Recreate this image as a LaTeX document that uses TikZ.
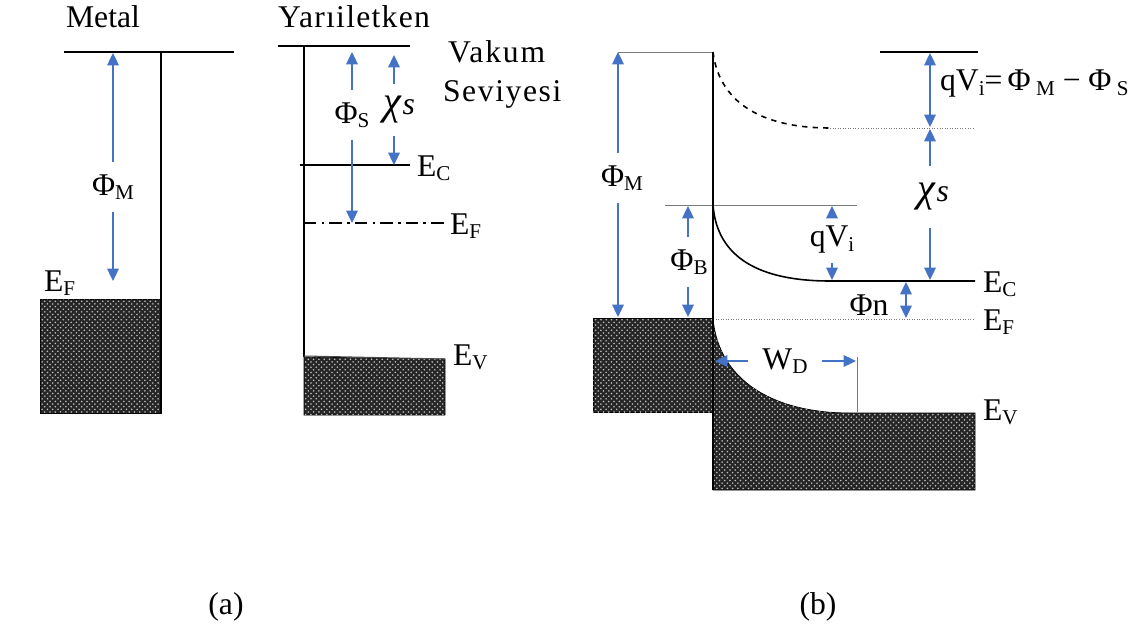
\documentclass[tikz,border=0pt]{standalone}
\usepackage{fontspec}
\setmainfont{Liberation Serif}
\usepackage{tikz}
\usetikzlibrary{arrows.meta,patterns}
\definecolor{dimblue}{RGB}{68,114,196}
\definecolor{guidegrey}{RGB}{120,120,120}
\newcommand{\lo}[1]{\raisebox{-0.3ex}{\fontsize{12}{12}\selectfont #1}}
\newcommand{\chis}{{\fontsize{23}{24}\selectfont\itshape χ}\kern1pt{\itshape s}}

\begin{document}
\begin{tikzpicture}[
    x=0.02cm, y=-0.02cm,
    lvl/.style={line width=0.9pt},
    guide/.style={line width=0.45pt, guidegrey},
    arr/.style={dimblue, line width=1.1pt, -{Triangle[length=7pt,width=6.5pt]}},
    dbl/.style={dimblue, line width=1.1pt, {Triangle[length=7pt,width=6.5pt]}-{Triangle[length=7pt,width=6.5pt]}},
    lbl/.style={font=\fontsize{18}{21}\selectfont, inner sep=1pt},
    gap/.style={lbl, inner xsep=2pt, inner ysep=7pt},
    band/.style={fill=black!85, postaction={pattern=crosshatch dots, pattern color=white!75!black}}
]
    \useasboundingbox (0,0) rectangle (1137,636);

    % (a) metal
    \node[lbl] (metal) at (103,17) {Metal};
    \coordinate (mvacL) at (64,52);
    \coordinate (mvacR) at (234,52);
    \coordinate (mwallT) at (161,52);
    \coordinate (mwallB) at (161,413);
    \draw[lvl] (mvacL) -- (mvacR);
    \draw[band] (40,299) rectangle (161,413);
    \draw[lvl] (mwallT) -- (mwallB);
    \node[lbl, anchor=west] (efm) at (42,283) {E\lo{F}};
    \node[gap] (phima) at (113,187) {Φ\lo{M}};
    \coordinate (phimaT) at (113,53);
    \coordinate (phimaB) at (113,281);
    \draw[arr] (phima) -- (phimaT);
    \draw[arr] (phima) -- (phimaB);

    % (a) semiconductor
    \node[lbl] (semi) at (354,17) {\addfontfeatures{LetterSpace=4}Yarıiletken};
    \coordinate (svacL) at (278,46);
    \coordinate (svacR) at (410,46);
    \coordinate (swallT) at (304,46);
    \coordinate (swallB) at (304,357);
    \coordinate (secL) at (300,165);
    \coordinate (secR) at (410,165);
    \coordinate (sefL) at (304,223);
    \coordinate (sefR) at (445,223);
    \coordinate (sevL) at (304,356);
    \coordinate (sevR) at (445,359);
    \draw[band] (304,357) -- (445,359) -- (445,415) -- (304,415) -- cycle;
    \draw[lvl] (svacL) -- (svacR);
    \draw[lvl] (swallT) -- (swallB);
    \draw[lvl] (secL) -- (secR);
    \draw[line width=0.6pt, dash pattern=on 7pt off 3pt on 1.5pt off 3pt] (sefL) -- (sefR);
    \draw[line width=0.6pt, black!70] (sevL) -- (sevR);
    \node[lbl, anchor=west] (eca) at (415,168) {E\lo{C}};
    \node[lbl, anchor=west] (efa) at (448,226) {E\lo{F}};
    \node[lbl, anchor=west] (eva) at (451,357) {E\lo{V}};
    \node[lbl, anchor=west] (vak) at (446,52) {\addfontfeatures{LetterSpace=6}Vakum};
    \node[lbl, anchor=west] (sev) at (441,94) {\addfontfeatures{LetterSpace=5}Seviyesi};
    \node[gap] (phis) at (352,115) {Φ\lo{S}};
    \coordinate (phisT) at (352,52);
    \coordinate (phisB) at (352,223);
    \draw[arr] (phis) -- (phisT);
    \draw[arr] (phis) -- (phisB);
    \node[gap] (chia) at (399,110) {\chis};
    \coordinate (chiaT) at (394,55);
    \coordinate (chiaB) at (394,165);
    \draw[arr] (chia.north -| chiaT) -- (chiaT);
    \draw[arr] (chia.south -| chiaB) -- (chiaB);

    % (b) contact
    \coordinate (bvacL) at (618,52);
    \coordinate (bwallT) at (713,52);
    \coordinate (bwallB) at (713,490);
    \coordinate (bvacR1) at (880,52);
    \coordinate (bvacR2) at (978,52);
    \coordinate (bbend) at (830,128);
    \coordinate (bvacE) at (975,128);
    \coordinate (becT) at (713,205);
    \coordinate (bguideL) at (665,205);
    \coordinate (bguideR) at (857,205);
    \coordinate (becB) at (830,281);
    \coordinate (becE) at (975,281);
    \coordinate (befL) at (713,319);
    \coordinate (befE) at (975,319);
    \coordinate (bwd) at (857,357);
    \coordinate (bwdB) at (857,412);
    \draw[band] (593,318) rectangle (713,412);
    \draw[band] (713,318) .. controls (718,378) and (770,413) .. (850,413)
        -- (975,413) -- (975,490) -- (713,490) -- cycle;
    \draw[guide] (bvacL) -- (bwallT);
    \draw[lvl] (bvacR1) -- (bvacR2);
    \draw[lvl, dashed] (bwallT) .. controls (720,108) and (770,128) .. (bbend);
    \draw[guide, densely dotted] (bbend) -- (bvacE);
    \draw[guide] (bguideL) -- (bguideR);
    \draw[lvl] (becT) .. controls (717,258) and (760,281) .. (becB) -- (becE);
    \draw[guide, densely dotted] (befL) -- (befE);
    \draw[guide] (bwd) -- (bwdB);
    \draw[lvl] (bwallT) -- (bwallB);
    \node[lbl, anchor=west] (ecb) at (981,284) {E\lo{C}};
    \node[lbl, anchor=west] (efb) at (981,322) {E\lo{F}};
    \node[lbl, anchor=west] (evb) at (981,412) {E\lo{V}};

    \node[gap] (phimb) at (622,178) {Φ\lo{M}};
    \draw[arr] (phimb.north -| bvacL) -- (bvacL);
    \draw[arr] (phimb.south -| bvacL) -- (618,317);
    \node[gap] (phib) at (689,262) {Φ\lo{B}};
    \draw[arr] (phib.north -| 688,0) -- (688,206);
    \draw[arr] (phib.south -| 688,0) -- (688,317);
    \node[lbl, inner ysep=5pt] (qvi) at (832,240) {qV\lo{i}};
    \draw[arr] (qvi.north) -- (832,206);
    \draw[arr] (qvi.south) -- (832,280);
    \node[lbl, anchor=west] (qvieq) at (938,84) {qV\lo{i}=\,Φ\,\lo{M} − Φ\,\lo{S}};
    \draw[dbl] (930,53) -- (930,127);
    \node[gap, inner ysep=10pt] (chib) at (933,197) {\chis};
    \draw[arr] (chib.north -| 930,0) -- (930,129);
    \draw[arr] (chib.south -| 930,0) -- (930,280);
    \node[lbl] (phin) at (869,305) {Φn};
    \draw[dbl] (906,282) -- (906,318);
    \node[lbl, inner xsep=8pt] (wd) at (785,361) {W\lo{D}};
    \draw[arr] (wd.west) -- (715,361);
    \draw[arr] (wd.east) -- (856,361);

    \node[lbl] (capa) at (226,607) {(a)};
    \node[lbl] (capb) at (818,607) {(b)};
\end{tikzpicture}
\end{document}
